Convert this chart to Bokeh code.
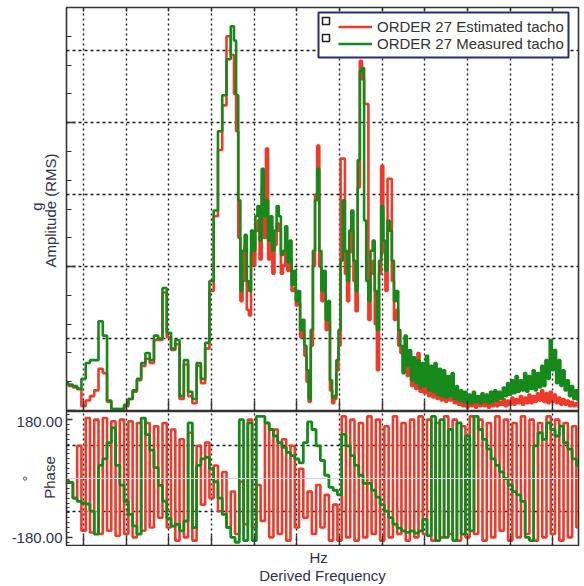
from bokeh.plotting import figure
from bokeh.layouts import column, row
from bokeh.models import (FixedTicker, Legend, LegendItem, BoxAnnotation, Span, Range1d,
                          LinearAxis, Grid, CustomLabelingPolicy)
from bokeh.core.properties import value
from bokeh.embed import file_html
from bokeh.resources import INLINE

# ---------------- data ----------------
# derived frequency of the amplitude bins (grid units, one grid division = 1)
freq_amp = [
    -0.4, -0.3, -0.2, -0.1, 0.0, 0.1, 0.2, 0.3, 0.4, 0.5,
    0.6, 0.7, 0.8, 0.9, 1.0, 1.1, 1.2, 1.3, 1.4, 1.5,
    1.6, 1.7, 1.8, 1.9, 2.0, 2.1, 2.2, 2.3, 2.4, 2.5,
    2.6, 2.7, 2.8, 2.9, 3.0, 3.1, 3.2, 3.3, 3.4, 3.5,
    3.55, 3.60, 3.65, 3.70, 3.75, 3.80, 3.85, 3.90, 3.95, 4.00,
    4.05, 4.10, 4.15, 4.20, 4.25, 4.30, 4.35, 4.40, 4.45, 4.50,
    4.55, 4.60, 4.65, 4.70, 4.75, 4.80, 4.85, 4.90, 4.95, 5.00,
    5.05, 5.10, 5.15, 5.20, 5.25, 5.30, 5.35, 5.40, 5.45, 5.50,
    5.55, 5.60, 5.65, 5.70, 5.75, 5.80, 5.85, 5.90, 5.95, 6.00,
    6.05, 6.10, 6.15, 6.20, 6.25, 6.30, 6.35, 6.40, 6.45, 6.50,
    6.55, 6.60, 6.65, 6.70, 6.75, 6.80, 6.85, 6.90, 6.95, 7.00,
    7.05, 7.10, 7.15, 7.20, 7.25, 7.30, 7.35, 7.40, 7.45, 7.50,
    7.55, 7.60, 7.65, 7.70, 7.75, 7.80, 7.85, 7.90, 7.95, 8.00,
    8.05, 8.10, 8.15, 8.20, 8.25, 8.30, 8.35, 8.40, 8.45, 8.50,
    8.55, 8.60, 8.65, 8.70, 8.75, 8.80, 8.85, 8.90, 8.95, 9.00,
    9.05, 9.10, 9.15, 9.20, 9.25, 9.30, 9.35, 9.40, 9.45, 9.50,
    9.55, 9.60, 9.65, 9.70, 9.75, 9.80, 9.85, 9.90, 9.95, 10.00,
    10.05, 10.10, 10.15, 10.20, 10.25, 10.30, 10.35, 10.40, 10.45, 10.50,
    10.55, 10.60, 10.65, 10.70, 10.75, 10.80, 10.85, 10.90, 10.95, 11.00,
    11.05, 11.10, 11.15, 11.20, 11.25, 11.30, 11.35, 11.40, 11.45, 11.50,
    11.55, 11.60,
]

amp_estimated = [
    0.18, 0.17, 0.16, 0.15, 0.03, 0.07, 0.10, 0.14, 0.29, 0.26,
    0.06, 0.01, 0.01, 0.01, 0.03, 0.08, 0.13, 0.21, 0.31, 0.36,
    0.33, 0.49, 0.49, 0.82, 0.51, 0.42, 0.46, 0.08, 0.32, 0.10,
    0.05, 0.31, 0.19, 0.43, 0.83, 1.35, 1.81, 2.12, 2.60, 2.47,
    2.20, 1.94, 1.20, 0.76, 0.90, 1.15, 0.70, 0.66, 1.10, 1.01,
    1.25, 1.32, 1.05, 1.56, 1.20, 1.82, 1.05, 1.28, 0.95, 1.15,
    1.30, 1.25, 0.95, 1.01, 1.15, 0.97, 1.05, 0.83, 0.85, 0.73,
    0.75, 0.51, 0.55, 0.38, 0.20, 0.06, 0.45, 1.01, 1.50, 1.84,
    1.00, 0.76, 0.85, 0.56, 0.62, 0.14, 0.05, 0.08, 0.28, 0.45,
    1.75, 1.75, 0.95, 0.76, 1.10, 1.25, 0.90, 0.69, 1.55, 2.43,
    2.30, 2.13, 2.13, 0.63, 0.95, 1.04, 0.60, 0.28, 0.95, 1.70,
    1.10, 0.83, 1.61, 1.61, 0.90, 0.63, 0.70, 0.45, 0.40, 0.38,
    0.45, 0.24, 0.40, 0.17, 0.31, 0.15, 0.40, 0.13, 0.28, 0.12,
    0.33, 0.10, 0.26, 0.09, 0.28, 0.08, 0.24, 0.07, 0.21, 0.06,
    0.19, 0.07, 0.14, 0.05, 0.10, 0.04, 0.07, 0.03, 0.06, 0.02,
    0.05, 0.03, 0.06, 0.02, 0.05, 0.03, 0.06, 0.03, 0.05, 0.02,
    0.06, 0.03, 0.07, 0.03, 0.06, 0.04, 0.08, 0.03, 0.07, 0.04,
    0.09, 0.04, 0.08, 0.05, 0.10, 0.04, 0.09, 0.05, 0.11, 0.05,
    0.10, 0.06, 0.12, 0.07, 0.14, 0.06, 0.12, 0.05, 0.13, 0.06,
    0.11, 0.05, 0.09, 0.04, 0.08, 0.04, 0.07, 0.03, 0.06, 0.03,
    0.05, 0.03,
]

amp_measured = [
    0.19, 0.18, 0.17, 0.15, 0.22, 0.33, 0.35, 0.35, 0.62, 0.52,
    0.07, 0.01, 0.01, 0.01, 0.04, 0.08, 0.14, 0.22, 0.33, 0.40,
    0.35, 0.52, 0.50, 0.85, 0.54, 0.43, 0.49, 0.10, 0.35, 0.13,
    0.08, 0.33, 0.22, 0.47, 0.90, 1.39, 1.94, 2.19, 2.44, 2.67,
    2.57, 2.19, 1.46, 0.83, 1.11, 1.22, 0.90, 0.83, 1.25, 1.11,
    1.35, 1.42, 1.18, 1.68, 1.35, 1.46, 1.18, 1.35, 1.11, 1.25,
    1.42, 1.35, 1.08, 1.11, 1.28, 1.03, 1.18, 0.87, 0.97, 0.76,
    0.83, 0.56, 0.63, 0.45, 0.28, 0.08, 0.56, 1.11, 1.46, 1.68,
    1.11, 0.83, 0.97, 0.63, 0.76, 0.21, 0.09, 0.10, 0.35, 0.56,
    1.04, 1.46, 1.11, 0.90, 1.25, 1.39, 1.04, 0.83, 1.74, 2.36,
    2.38, 1.32, 0.90, 0.76, 1.11, 1.18, 0.83, 0.56, 1.04, 1.42,
    1.18, 0.97, 1.32, 1.25, 1.04, 0.76, 0.83, 0.56, 0.45, 0.26,
    0.52, 0.31, 0.42, 0.21, 0.37, 0.19, 0.35, 0.16, 0.33, 0.17,
    0.38, 0.14, 0.31, 0.13, 0.33, 0.11, 0.29, 0.10, 0.28, 0.09,
    0.24, 0.10, 0.26, 0.08, 0.17, 0.07, 0.14, 0.06, 0.13, 0.05,
    0.11, 0.05, 0.13, 0.06, 0.10, 0.05, 0.12, 0.06, 0.11, 0.05,
    0.13, 0.06, 0.14, 0.07, 0.13, 0.08, 0.16, 0.10, 0.19, 0.11,
    0.21, 0.12, 0.24, 0.13, 0.21, 0.14, 0.26, 0.13, 0.24, 0.15,
    0.28, 0.14, 0.26, 0.16, 0.31, 0.17, 0.35, 0.22, 0.49, 0.28,
    0.42, 0.19, 0.35, 0.17, 0.28, 0.14, 0.21, 0.10, 0.17, 0.08,
    0.14, 0.07,
]

# derived frequency of the phase bins
freq_phase = [
    -0.4, -0.3, -0.2, -0.1, 0.0, 0.1, 0.2, 0.3, 0.4, 0.5,
    0.6, 0.7, 0.8, 0.9, 1.0, 1.1, 1.2, 1.3, 1.4, 1.5,
    1.6, 1.7, 1.8, 1.9, 2.0, 2.1, 2.2, 2.3, 2.4, 2.5,
    2.6, 2.7, 2.8, 2.9, 3.0, 3.1, 3.2, 3.3, 3.4, 3.5,
    3.6, 3.7, 3.8, 3.9, 4.0, 4.1, 4.2, 4.3, 4.4, 4.5,
    4.6, 4.7, 4.8, 4.9, 5.0, 5.1, 5.2, 5.3, 5.4, 5.5,
    5.6, 5.7, 5.8, 5.9, 6.0, 6.1, 6.2, 6.3, 6.4, 6.5,
    6.6, 6.7, 6.8, 6.9, 7.0, 7.1, 7.2, 7.3, 7.4, 7.5,
    7.6, 7.7, 7.8, 7.9, 8.0, 8.1, 8.2, 8.3, 8.4, 8.5,
    8.6, 8.7, 8.8, 8.9, 9.0, 9.1, 9.2, 9.3, 9.4, 9.5,
    9.6, 9.7, 9.8, 9.9, 10.0, 10.1, 10.2, 10.3, 10.4, 10.5,
    10.6, 10.7, 10.8, 10.9, 11.0, 11.1, 11.2, 11.3, 11.4, 11.5,
    11.6,
]

phase_estimated = [
    -5, -12, -60, 100, -160, 185, -165, 180, -170, 185,
    -160, 175, -175, 180, -170, 175, -180, 170, -160, 170,
    -150, 160, -120, 170, -150, 150, -190, 120, -180, 140,
    -190, 100, -80, 110, -60, 40, -100, 20, -150, -40,
    -170, -10, -140, 180, -150, -20, -130, 170, -180, 150,
    -170, 120, -190, 100, -150, 30, -120, -40, -170, -20,
    -150, -50, -190, -80, -190, 190, -180, 180, -190, 170,
    -180, 190, -170, 180, -190, 160, -180, 190, -170, 170,
    -190, 180, -180, 190, -170, 180, -190, 170, -180, 190,
    -170, 180, -190, 160, -180, 190, -170, 180, -190, 170,
    -180, 190, -160, 180, -190, 170, -180, 190, -170, 180,
    -190, 170, -180, 190, -170, 180, -190, 170, -180, 160,
    -150,
]

phase_measured = [
    -5, -12, -60, -70, -75, -78, -100, -170, 40, 60,
    110, 155, 40, -20, -70, -110, -145, -170, 185, 134,
    87, 33, -21, -69, -122, -146, -140, -160, -130, 170,
    -150, 40, 60, 65, 30, -10, -60, -110, -150, -180,
    -195, 180, -190, 170, -190, 190, 190, 170, 150, 130,
    110, 95, 80, 70, 60, 48, 110, 173, 150, 100,
    55, 10, -27, -36, -50, 135, 100, 70, 40, 10,
    -15, -15, -36, -57, -80, -100, -120, -140, -152, -160,
    -165, -160, -167, -160, -125, -175, 190, -190, 180, -180,
    150, -190, 170, -170, 130, -160, 190, 150, 120, 90,
    60, 40, 20, 0, -20, -40, -50, -70, -180, -190,
    100, 140, 120, 170, 150, 130, 160, 110, 90, 60,
    40,
]

series_labels = ["ORDER 27 Estimated tacho", "ORDER 27 Measured tacho"]
freq_grid = [0, 1, 2, 3, 4, 5, 6, 7, 8, 9, 10, 11]
amp_major = [0, 1, 2]
amp_minor = [0.2, 0.4, 0.6, 0.8, 1.2, 1.4, 1.6, 1.8, 2.2, 2.4, 2.6]
amp_grid = [0.5, 1.0, 1.5, 2.0, 2.5]
phase_labels = [-180, 180]
phase_grid = [-100, 100]
phase_minor = [-195, -180, -165, -150, -135, -120, -105, -90, -75, -60, -45, -30, -15, 0,
               15, 30, 45, 60, 75, 90, 105, 120, 135, 150, 165, 180, 195]

RED = "#ee3a2a"
GREEN = "#17891b"
TXT = "#30324a"
FRAME = "#333333"
FONT = "Liberation Sans"

NO_LABELS = CustomLabelingPolicy(code="""
const n = indices.size;
for (let i = 0; i < n; i++) {
  if (typeof indices.unset === "function") { indices.unset(i) } else { indices.set(i, false) }
}
return indices;
""")


def tick_axis(ticks, minor, tick_in, minor_in):
    return LinearAxis(ticker=FixedTicker(ticks=ticks, minor_ticks=minor),
                      major_tick_in=tick_in, major_tick_out=0,
                      minor_tick_in=minor_in, minor_tick_out=0,
                      major_tick_line_color=FRAME, minor_tick_line_color=FRAME,
                      major_tick_line_width=1.4,
                      major_label_text_font_size="0px", major_label_standoff=0,
                      major_label_policy=NO_LABELS,
                      axis_line_color=FRAME)


def base_fig(height, yr, top, bottom):
    f = figure(width=520, height=height, x_range=xr, y_range=yr,
               output_backend="svg", toolbar_location=None,
               x_axis_location=None, y_axis_location=None,
               min_border_left=2, min_border_right=6,
               min_border_top=top, min_border_bottom=bottom)
    f.xgrid.visible = False
    f.ygrid.visible = False
    f.outline_line_color = FRAME
    f.outline_line_width = 1.6
    f.background_fill_color = "white"
    f.border_fill_color = "white"
    return f


def text_strip(width, height, xr_, yr_):
    f = figure(width=width, height=height, x_range=xr_, y_range=yr_,
               output_backend="svg", toolbar_location=None,
               x_axis_location=None, y_axis_location=None,
               min_border=0, outline_line_color=None)
    f.xgrid.visible = False
    f.ygrid.visible = False
    f.border_fill_color = "white"
    f.background_fill_color = "white"
    return f


def put_text(f, x, y, s, angle=0.0, align="center"):
    f.text(x=[x], y=[y], text=[s], angle=angle, text_align=align, text_baseline="middle",
           text_font=value(FONT), text_font_size=value("15px"), text_color=TXT)


def screen_box(left, right, bottom, top, **kw):
    return BoxAnnotation(left=left, right=right, bottom=bottom, top=top,
                         left_units="screen", right_units="screen",
                         top_units="screen", bottom_units="screen", **kw)


# ---------------- amplitude panel ----------------
xr = Range1d(-0.4, 11.6)
p1 = base_fig(411, Range1d(0, 2.8), 7, 1)
p1.add_layout(tick_axis(amp_major, amp_minor, 9, 5), "left")
p1.add_layout(tick_axis(freq_grid, [], 10, 0), "below")
p1.add_layout(tick_axis(freq_grid, [], 4, 0), "above")
p1.add_layout(Grid(dimension=0, ticker=FixedTicker(ticks=freq_grid),
                   grid_line_color="#1a1a1a", grid_line_dash="2 3", grid_line_width=1.4))
p1.add_layout(Grid(dimension=1, ticker=FixedTicker(ticks=amp_grid),
                   grid_line_color="#1a1a1a", grid_line_dash="3 3", grid_line_width=1.4))

r_red = p1.step(freq_amp, amp_estimated, mode="center", line_color=RED, line_width=2.6)
r_grn = p1.step(freq_amp, amp_measured, mode="center", line_color=GREEN, line_width=2.6)

p1.add_layout(screen_box(252, 502, 353, 398, fill_color="white", fill_alpha=1.0,
                         line_color="#2b2a78", line_alpha=1.0, line_width=2))
legend = Legend(items=[LegendItem(label=series_labels[0], renderers=[r_red]),
                       LegendItem(label=series_labels[1], renderers=[r_grn])],
                location=(269, 355), padding=3, spacing=0, margin=0,
                label_height=17, glyph_height=17, glyph_width=34, label_standoff=5,
                label_text_font=FONT, label_text_font_size="15px", label_text_color="#333333",
                border_line_alpha=0, background_fill_alpha=0)
p1.add_layout(legend)
for yb in (393, 376):
    p1.add_layout(screen_box(256, 263, yb - 7, yb, fill_alpha=0,
                             line_color="#222222", line_alpha=1.0, line_width=1.5))

# ---------------- phase panel ----------------
p2 = base_fig(135, Range1d(-205, 205), 0, 1)
p2.add_layout(tick_axis(phase_labels, phase_minor, 6, 3), "left")
p2.add_layout(tick_axis(freq_grid, [], 10, 0), "below")
p2.add_layout(Grid(dimension=0, ticker=FixedTicker(ticks=freq_grid),
                   grid_line_color="#1a1a1a", grid_line_dash="2 3", grid_line_width=1.4))
p2.add_layout(Grid(dimension=1, ticker=FixedTicker(ticks=phase_grid),
                   grid_line_color="#1a1a1a", grid_line_dash="3 3", grid_line_width=1.4))
p2.add_layout(Span(location=0, dimension="width", line_color="#d4d4d4", line_width=1))

p2.step(freq_phase, phase_estimated, mode="center", line_color=RED, line_width=2.6)
p2.step(freq_phase, phase_measured, mode="center", line_color=GREEN, line_width=2.8)

# ---------------- text strips (page pixel coordinates, y measured upward) ----------------
left = text_strip(64, 586, Range1d(0, 64), Range1d(0, 586))
put_text(left, 36, 586 - 206, "g", angle=1.5708)
put_text(left, 50, 586 - 210, "Amplitude (RMS)", angle=1.5708)
put_text(left, 27, 586 - 478, "°", angle=1.5708)
put_text(left, 49, 586 - 477, "Phase", angle=1.5708)
put_text(left, 62, 586 - 421, "180.00", align="right")
put_text(left, 62, 586 - 537, "-180.00", align="right")

bottom = text_strip(520, 40, Range1d(64, 584), Range1d(0, 40))
put_text(bottom, 320, 586 - 557, "Hz")
put_text(bottom, 324, 586 - 575, "Derived Frequency")

layout = row(left, column(p1, p2, bottom, spacing=0), spacing=0)
open("out.html", "w").write(file_html(layout, INLINE))
